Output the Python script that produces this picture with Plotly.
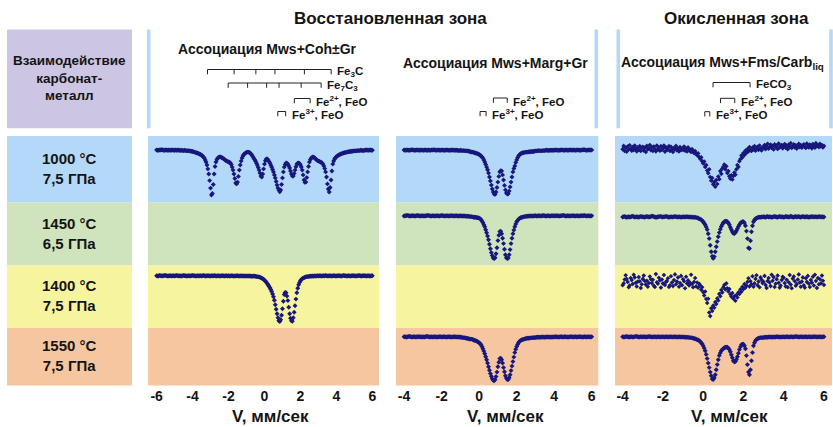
import numpy as np
import plotly.graph_objects as go

W, H = 833, 427
FONT = "Liberation Sans, Arial, Helvetica, sans-serif"
INK = "#141414"
DOT = "#17177c"

# ---------------------------------------------------------------------------
# Mössbauer spectra: absorption (%) below the baseline, one value per channel.
# Every spectrum is sampled with a 0.05 mm/s step; 20 channels per text row.
# ---------------------------------------------------------------------------
V_STEP = 0.05

# Mws+Coh±Gr, 1000 °C / 7.5 GPa, v = -6.0 ... 6.0
P1_1000 = [
    0.0, 0.1, 0.1, 0.0, 0.0, -0.1, -0.1, 0.0, 0.1, 0.1, 0.0, 0.0, 0.1, 0.1, 0.0, 0.1, 0.1, 0.0, 0.0, 0.1,
    0.1, 0.0, 0.1, 0.1, 0.0, 0.1, 0.2, 0.1, 0.1, 0.2, 0.2, 0.1, 0.2, 0.2, 0.3, 0.2, 0.3, 0.3, 0.4, 0.4,
    0.5, 0.6, 0.7, 0.8, 0.9, 1.0, 1.1, 1.2, 1.4, 1.5, 1.7, 2.0, 2.3, 2.7, 3.3, 4.0, 5.0, 6.3, 8.0, 10.2,
    12.7, 15.0, 14.5, 11.5, 8.0, 5.5, 4.0, 3.2, 2.7, 2.4, 2.3, 2.3, 2.5, 2.6, 2.8, 3.0, 3.3, 3.5, 3.7, 3.8,
    4.0, 4.1, 4.3, 4.8, 5.7, 6.7, 8.0, 9.5, 11.0, 11.3, 10.7, 8.8, 6.7, 5.0, 3.7, 2.7, 2.0, 1.5, 1.2, 1.0,
    0.8, 0.7, 0.7, 0.8, 1.0, 1.3, 1.7, 2.2, 2.7, 3.2, 3.7, 4.3, 5.0, 5.8, 6.7, 7.7, 8.7, 9.0, 8.0, 6.3,
    4.7, 3.6, 3.0, 3.0, 3.3, 3.8, 4.3, 5.0, 5.7, 6.5, 7.3, 8.3, 9.3, 10.5, 11.7, 12.7, 13.3, 13.9, 13.3, 11.5,
    9.3, 7.3, 5.7, 4.8, 4.3, 4.4, 4.7, 5.3, 6.0, 7.0, 8.0, 8.7, 8.7, 7.8, 6.7, 5.6, 4.7, 4.4, 4.3, 4.5,
    5.0, 5.7, 6.7, 8.3, 10.0, 10.8, 10.7, 9.2, 7.3, 5.5, 4.0, 3.2, 2.7, 2.4, 2.3, 2.4, 2.7, 3.0, 3.3, 3.5,
    3.7, 3.8, 4.0, 4.1, 4.3, 4.7, 5.3, 6.2, 7.3, 9.0, 11.3, 13.0, 14.0, 12.5, 10.0, 7.0, 4.7, 3.7, 3.0, 2.6,
    2.2, 2.0, 1.8, 1.6, 1.5, 1.3, 1.2, 1.1, 1.0, 0.9, 0.8, 0.8, 0.7, 0.6, 0.6, 0.5, 0.5, 0.4, 0.4, 0.3,
    0.3, 0.3, 0.3, 0.2, 0.2, 0.2, 0.2, 0.1, 0.1, 0.2, 0.2, 0.1, 0.1, 0.0, 0.0, 0.1, 0.1, 0.0, 0.0, 0.1,
    0.1,
]

# Mws+Coh±Gr, 1400 °C / 7.5 GPa, v = -6.0 ... 6.0
P1_1400 = [
    0.0, 0.1, 0.1, -0.1, 0.0, 0.0, 0.1, 0.0, 0.0, -0.1, -0.1, 0.0, 0.1, 0.1, 0.0, 0.0, 0.0, 0.1, 0.0, 0.0,
    0.1, 0.0, -0.1, 0.0, 0.0, 0.1, 0.0, 0.1, 0.1, 0.0, -0.1, 0.0, 0.0, 0.1, 0.1, 0.0, 0.0, 0.1, 0.0, 0.0,
    -0.1, 0.0, 0.0, 0.1, 0.1, 0.0, 0.0, 0.1, 0.0, 0.0, 0.1, 0.0, -0.1, 0.0, 0.1, 0.1, 0.0, 0.0, 0.0, 0.1,
    0.1, 0.0, 0.0, 0.1, -0.1, 0.0, 0.1, 0.1, 0.0, 0.0, 0.1, 0.1, 0.0, 0.0, 0.0, 0.1, 0.1, 0.0, 0.0, 0.1,
    0.0, 0.1, 0.1, 0.0, 0.0, 0.1, 0.1, 0.1, 0.1, 0.0, 0.0, 0.1, 0.1, 0.1, 0.0, 0.1, 0.1, 0.1, 0.1, 0.1,
    0.1, 0.1, 0.1, 0.1, 0.1, 0.2, 0.2, 0.2, 0.1, 0.2, 0.2, 0.3, 0.3, 0.4, 0.4, 0.5, 0.7, 0.8, 1.0, 1.2,
    1.5, 1.8, 2.2, 2.6, 3.0, 3.5, 4.0, 4.6, 5.3, 6.1, 7.0, 8.2, 9.7, 11.2, 12.7, 14.0, 15.0, 15.3, 14.7, 13.2,
    11.0, 8.5, 6.3, 5.6, 5.7, 6.8, 8.3, 10.5, 12.7, 14.2, 15.0, 15.2, 14.0, 12.2, 10.0, 7.8, 5.7, 4.2, 3.0, 2.3,
    1.7, 1.3, 1.0, 0.8, 0.7, 0.5, 0.4, 0.3, 0.3, 0.3, 0.2, 0.2, 0.2, 0.1, 0.2, 0.1, 0.1, 0.1, 0.1, 0.0,
    0.1, 0.0, 0.0, 0.1, 0.1, 0.0, 0.0, 0.1, -0.1, 0.0, 0.1, 0.1, 0.0, 0.0, 0.1, 0.1, 0.0, 0.0, 0.0, 0.1,
    0.1, 0.0, 0.0, 0.0, 0.0, 0.1, 0.1, 0.0, -0.1, 0.0, 0.0, 0.1, 0.1, 0.0, 0.0, 0.1, 0.1, 0.0, 0.0, 0.0,
    0.0, 0.1, 0.1, 0.0, 0.0, 0.0, -0.1, 0.1, 0.1, 0.0, 0.0, 0.0, 0.0, 0.1, 0.1, 0.0, 0.0, 0.1, 0.1, 0.0,
    0.0,
]

# Mws+Marg+Gr, 1000 °C / 7.5 GPa, v = -4.0 ... 6.0
P2_1000 = [
    0.0, 0.1, 0.1, 0.0, 0.0, 0.1, 0.1, 0.0, -0.1, 0.0, 0.0, 0.1, 0.1, 0.0, 0.0, 0.0, 0.1, 0.1, 0.0, 0.0,
    0.1, 0.1, 0.0, 0.0, 0.1, 0.1, 0.0, 0.1, 0.1, 0.0, 0.0, 0.0, -0.1, 0.0, 0.1, 0.1, 0.0, 0.0, 0.1, 0.1,
    0.0, 0.0, 0.1, 0.1, 0.1, 0.0, 0.0, 0.1, 0.1, 0.1, 0.1, 0.0, 0.0, 0.1, 0.1, 0.1, 0.1, 0.1, 0.2, 0.2,
    0.1, 0.2, 0.2, 0.2, 0.2, 0.3, 0.3, 0.3, 0.3, 0.4, 0.5, 0.6, 0.7, 0.7, 0.8, 0.9, 1.0, 1.1, 1.2, 1.3,
    1.5, 1.7, 2.0, 2.3, 2.7, 3.3, 4.0, 4.8, 5.7, 6.6, 7.7, 9.0, 10.3, 11.7, 13.0, 14.0, 14.7, 14.8, 14.0, 12.5,
    10.7, 8.8, 7.3, 6.9, 7.0, 8.3, 10.0, 11.8, 13.3, 14.3, 14.7, 14.6, 13.7, 12.3, 10.7, 9.0, 7.3, 6.2, 5.3, 4.2,
    3.3, 2.6, 2.0, 1.6, 1.3, 1.1, 1.0, 0.9, 0.8, 0.8, 0.7, 0.7, 0.7, 0.6, 0.6, 0.6, 0.5, 0.5, 0.5, 0.4,
    0.3, 0.3, 0.3, 0.2, 0.2, 0.3, 0.3, 0.2, 0.2, 0.2, 0.2, 0.1, 0.1, 0.1, 0.2, 0.1, 0.1, 0.1, 0.1, 0.1,
    0.1, 0.0, 0.0, 0.1, 0.1, 0.1, 0.1, 0.0, 0.0, 0.0, 0.1, 0.1, 0.0, 0.0, 0.1, 0.1, 0.0, 0.0, 0.0, 0.1,
    0.0, 0.0, 0.1, 0.1, 0.0, 0.0, 0.0, 0.1, 0.1, 0.0, 0.0, -0.1, -0.1, 0.0, 0.1, 0.1, 0.0, 0.0, 0.0, 0.0,
    0.0,
]

# Mws+Marg+Gr, 1450 °C / 6.5 GPa, v = -4.0 ... 6.0
P2_1450 = [
    0.1, 0.0, 0.0, -0.1, -0.1, 0.0, 0.1, 0.1, 0.0, 0.0, 0.0, 0.1, 0.1, 0.0, -0.1, 0.0, 0.0, 0.1, 0.1, 0.0,
    0.0, 0.1, 0.1, 0.0, 0.0, -0.1, -0.1, 0.0, 0.1, 0.1, 0.0, 0.0, 0.1, 0.1, 0.0, 0.0, 0.0, 0.1, 0.1, 0.0,
    -0.1, 0.0, 0.0, 0.1, 0.1, 0.0, 0.0, 0.1, 0.1, 0.0, 0.0, 0.0, 0.0, 0.1, 0.1, 0.0, 0.0, 0.1, 0.1, 0.1,
    0.0, 0.1, 0.1, 0.1, 0.1, 0.1, 0.2, 0.2, 0.2, 0.2, 0.3, 0.3, 0.3, 0.4, 0.5, 0.5, 0.5, 0.6, 0.7, 0.7,
    0.8, 1.0, 1.3, 1.8, 2.3, 3.0, 3.7, 4.7, 5.7, 6.8, 8.0, 9.5, 11.0, 12.3, 13.3, 14.1, 14.3, 14.0, 12.7, 10.7,
    8.3, 6.5, 5.3, 5.2, 6.0, 7.5, 9.3, 11.2, 13.0, 14.0, 14.3, 14.1, 13.0, 11.3, 9.3, 7.5, 6.0, 4.8, 3.7, 2.8,
    2.0, 1.6, 1.2, 0.9, 0.7, 0.6, 0.5, 0.4, 0.3, 0.3, 0.2, 0.2, 0.2, 0.1, 0.1, 0.1, 0.1, 0.1, 0.1, 0.0,
    0.0, 0.1, 0.1, 0.0, 0.0, 0.1, 0.1, 0.0, -0.1, 0.0, 0.0, 0.1, 0.1, 0.0, 0.0, 0.1, 0.1, 0.0, 0.0, 0.0,
    0.1, 0.0, 0.0, 0.0, 0.0, 0.1, 0.1, 0.0, 0.0, -0.1, -0.1, 0.0, 0.1, 0.1, 0.0, 0.0, 0.1, 0.1, 0.0, 0.0,
    0.0, 0.0, 0.1, 0.1, 0.0, 0.0, 0.1, 0.1, 0.0, 0.0, 0.0, 0.0, -0.1, 0.0, 0.1, 0.1, 0.0, 0.0, 0.1, 0.1,
    0.0,
]

# Mws+Marg+Gr, 1550 °C / 7.5 GPa, v = -4.0 ... 6.0
P2_1550 = [
    0.0, 0.0, 0.1, 0.1, 0.0, -0.1, -0.1, 0.0, 0.1, 0.1, 0.0, 0.0, 0.1, 0.1, 0.0, 0.0, 0.0, 0.0, 0.1, 0.1,
    0.0, 0.1, 0.1, 0.0, -0.1, -0.1, 0.0, 0.1, 0.1, 0.0, 0.1, 0.1, 0.0, 0.0, 0.1, 0.1, 0.1, 0.0, 0.0, 0.0,
    0.1, 0.1, 0.0, 0.0, 0.1, 0.1, 0.1, 0.0, 0.0, 0.1, 0.1, 0.1, 0.1, 0.0, 0.0, 0.1, 0.1, 0.1, 0.1, 0.1,
    0.2, 0.2, 0.3, 0.3, 0.3, 0.4, 0.5, 0.5, 0.6, 0.7, 0.8, 0.8, 0.8, 0.9, 1.1, 1.2, 1.3, 1.4, 1.6, 1.8,
    2.0, 2.3, 2.7, 3.3, 4.0, 4.8, 5.7, 6.7, 7.7, 8.8, 10.0, 11.2, 12.3, 13.2, 14.0, 14.5, 14.7, 14.3, 13.3, 11.8,
    10.0, 8.5, 7.3, 7.2, 7.7, 8.8, 10.3, 11.7, 13.0, 13.8, 14.3, 14.3, 13.7, 12.7, 11.3, 9.8, 8.3, 6.8, 5.3, 4.2,
    3.3, 2.6, 2.0, 1.6, 1.3, 1.1, 1.0, 0.9, 0.8, 0.7, 0.6, 0.5, 0.5, 0.5, 0.4, 0.4, 0.4, 0.3, 0.3, 0.3,
    0.3, 0.2, 0.2, 0.2, 0.2, 0.2, 0.2, 0.1, 0.1, 0.2, 0.2, 0.1, 0.1, 0.1, 0.1, 0.1, 0.2, 0.1, 0.1, 0.1,
    0.1, 0.0, 0.0, 0.1, 0.1, 0.1, 0.1, 0.0, 0.0, 0.1, 0.1, 0.0, 0.0, 0.1, 0.1, 0.1, 0.1, 0.0, 0.0, 0.0,
    0.1, 0.1, 0.0, 0.0, 0.1, 0.1, 0.0, 0.0, 0.0, 0.1, 0.1, 0.1, 0.0, 0.0, 0.1, 0.1, 0.0, 0.0, 0.1, 0.1,
    0.0,
]

# Mws+Fms/Carb_liq, 1000 °C / 7.5 GPa, v = -4.0 ... 6.0
P3_1000 = [
    0.3, -0.8, 0.9, -0.2, 1.1, -0.6, 0.4, -1.0, 0.2, 0.8, -0.4, 0.6, -0.9, 0.1, 1.0, -0.3, 0.5, -0.7, 0.9, -0.1,
    -0.5, 0.7, -0.2, 1.2, -0.8, 0.3, 0.0, -1.1, 0.6, -0.4, 0.9, -0.6, 0.2, 1.0, -0.9, 0.4, -0.2, 0.8, -0.7, 0.5,
    0.1, -0.9, 1.1, -0.3, 0.6, 0.2, -0.7, 0.9, -0.5, 0.4, 1.2, -0.1, 0.3, -0.8, 0.7, 0.0, 1.0, -0.4, 0.6, 0.2,
    0.5, -0.6, 0.8, 0.1, 1.0, -0.3, 0.7, 0.4, 1.2, 0.3, 1.0, 1.6, 0.9, 1.8, 2.3, 1.7, 2.9, 3.5, 3.0, 4.3,
    5.0, 4.4, 6.2, 5.6, 7.4, 8.3, 7.0, 9.6, 10.8, 9.9, 12.0, 11.2, 12.8, 10.6, 11.9, 9.4, 10.3, 7.6, 8.5, 6.8,
    6.2, 5.4, 7.0, 6.0, 8.2, 7.6, 9.3, 10.1, 9.0, 10.4, 9.2, 8.1, 8.8, 7.0, 5.6, 6.2, 4.3, 3.6, 2.4, 3.0,
    1.6, 2.2, 0.8, 1.5, 0.3, 1.0, -0.4, 0.6, 0.9, -0.2, 0.4, -0.7, 0.8, 0.1, -0.5, 0.5, -0.9, 0.2, 0.7, -0.3,
    -0.2, -1.1, 0.3, -0.7, -1.5, 0.1, -0.4, -1.2, -0.1, -0.8, 0.4, -1.3, -0.5, -0.9, 0.2, -1.6, -0.3, -0.7, -1.1, 0.0,
    -0.6, -1.4, -0.2, -0.9, 0.3, -1.2, -0.5, -1.7, -0.1, -0.8, -1.3, -0.3, -1.0, 0.1, -0.7, -1.5, -0.4, -1.1, -0.2, -0.9,
    -1.3, -0.5, -0.1, -1.6, -0.8, -0.3, -1.2, -0.6, 0.0, -1.4, -0.9, -0.2, -1.7, -0.7, -1.0, -0.4, -1.5, -0.6, -1.1, -0.3,
    -0.8,
]

# Mws+Fms/Carb_liq, 1450 °C / 6.5 GPa, v = -4.0 ... 6.0
P3_1450 = [
    0.1, 0.0, -0.1, 0.1, 0.2, 0.1, 0.0, 0.1, 0.1, -0.1, -0.2, 0.0, 0.1, 0.1, 0.0, 0.1, 0.2, 0.0, -0.1, 0.0,
    0.0, 0.1, 0.2, 0.0, -0.1, 0.0, 0.1, 0.0, 0.0, -0.2, -0.2, 0.0, 0.1, 0.2, 0.2, 0.0, 0.0, -0.1, -0.1, 0.1,
    0.1, 0.0, 0.0, -0.1, -0.1, 0.1, 0.2, 0.1, 0.0, 0.1, 0.1, 0.0, -0.1, 0.0, 0.1, 0.1, 0.0, 0.1, 0.2, 0.1,
    0.0, 0.1, 0.1, 0.0, 0.0, 0.1, 0.1, 0.1, 0.1, 0.2, 0.2, 0.2, 0.2, 0.3, 0.3, 0.5, 0.7, 0.8, 1.0, 1.3,
    1.7, 2.2, 2.7, 3.4, 4.3, 5.7, 7.3, 9.5, 11.7, 13.2, 13.9, 13.3, 11.7, 10.0, 8.3, 6.7, 5.3, 4.2, 3.3, 2.6,
    2.0, 1.7, 1.5, 1.5, 1.7, 2.1, 2.7, 3.5, 4.3, 5.0, 5.5, 5.6, 5.3, 4.7, 4.0, 3.3, 2.7, 2.2, 1.8, 1.7,
    1.7, 2.1, 3.0, 4.8, 7.3, 10.4, 10.6, 8.0, 5.0, 3.0, 1.7, 1.1, 0.7, 0.5, 0.3, 0.2, 0.2, 0.2, 0.1, 0.1,
    0.0, 0.1, 0.2, 0.0, -0.1, 0.1, 0.0, 0.1, 0.2, 0.1, 0.0, -0.1, 0.0, 0.1, 0.2, 0.0, -0.1, 0.0, 0.1, 0.0,
    0.2, 0.1, -0.1, 0.0, 0.0, 0.1, 0.1, -0.2, 0.0, 0.1, 0.2, 0.0, -0.1, 0.1, 0.0, -0.1, 0.1, 0.2, 0.0, -0.1,
    0.0, 0.1, 0.1, -0.1, 0.1, 0.2, 0.0, 0.1, -0.1, 0.0, 0.1, 0.0, 0.0, 0.1, 0.1, -0.1, 0.0, 0.1, 0.0, 0.1,
    0.1,
]

# Mws+Fms/Carb_liq, 1400 °C / 7.5 GPa, v = -4.0 ... 6.0
P3_1400 = [
    1.5, 0.9, -0.4, -1.8, -0.6, 0.4, 2.2, 1.6, -0.9, -0.2, 1.1, -2.0, -1.1, 0.7, 1.9, 0.3, -1.2, 0.2, 2.4, 1.2,
    -0.6, -1.7, 0.1, 1.3, 0.0, 2.0, 0.8, -1.4, -0.5, 0.8, -0.3, 1.7, 2.1, -2.2, 0.5, 1.0, -1.0, -0.1, 2.3, -0.4,
    0.9, -1.9, 1.4, 0.4, 0.1, -0.8, 2.1, 1.5, -1.5, 0.6, 1.8, -0.2, -2.1, 1.2, 0.3, -1.1, 2.0, 0.8, -1.6, 1.5,
    -0.5, 0.2, 2.5, -1.3, 0.9, -0.1, 1.6, 0.7, -2.0, 1.1, 2.2, 0.4, -0.9, 1.9, 0.6, 2.3, 1.0, 1.5, 3.0, 2.2,
    3.8, 4.9, 3.6, 6.1, 7.4, 6.0, 10.6, 11.8, 9.2, 10.1, 8.3, 9.0, 7.1, 7.8, 5.9, 6.6, 4.4, 5.2, 3.1, 3.9,
    2.2, 1.4, 2.9, 0.9, 2.5, 3.6, 2.8, 4.5, 5.3, 4.1, 6.0, 5.2, 6.7, 4.8, 5.6, 3.9, 4.4, 2.9, 3.7, 2.0,
    2.8, 1.1, 2.3, 1.6, 0.4, -0.8, 1.9, 0.2, 1.2, -1.5, 2.0, 0.9, -0.6, -1.8, 1.5, 0.3, 2.2, -1.1, -0.3, 0.8,
    0.4, -1.6, 1.4, 2.4, 0.1, -0.9, 0.6, 1.8, -2.0, 0.0, -1.2, 2.1, 1.0, -0.5, -1.7, 0.7, 2.3, 1.6, -0.2, -1.3,
    -1.0, 0.8, 1.9, -0.3, 2.2, 0.5, -1.9, 1.3, 2.5, -0.7, -1.4, 0.2, 1.7, 1.1, -0.4, -2.1, 0.6, 2.0, 0.3, -1.1,
    1.5, 2.3, -0.8, 0.4, -1.6, 1.0, 2.1, -0.2, 0.7, -1.3, 1.6, -2.0, 0.1, 2.4, -0.9, 1.2, -0.5, 0.9, -1.7, 0.0,
    1.4,
]

# Mws+Fms/Carb_liq, 1550 °C / 7.5 GPa, v = -4.0 ... 6.0
P3_1550 = [
    0.0, 0.1, 0.1, 0.0, -0.1, 0.0, 0.1, 0.1, 0.0, 0.0, 0.1, 0.1, 0.0, -0.1, -0.1, 0.0, 0.1, 0.1, 0.0, 0.0,
    0.1, 0.0, 0.0, 0.1, 0.1, 0.0, -0.1, 0.0, 0.0, 0.1, 0.1, 0.0, 0.0, 0.1, 0.1, 0.0, 0.0, 0.1, 0.1, 0.0,
    0.0, 0.1, 0.1, 0.0, 0.0, 0.1, 0.1, 0.0, 0.0, 0.1, 0.1, 0.0, 0.0, 0.1, 0.1, 0.1, 0.0, 0.1, 0.1, 0.1,
    0.1, 0.1, 0.2, 0.2, 0.2, 0.2, 0.3, 0.3, 0.3, 0.4, 0.5, 0.6, 0.7, 0.8, 1.0, 1.1, 1.3, 1.6, 2.0, 2.4,
    3.0, 3.8, 4.7, 5.9, 7.3, 8.8, 10.3, 11.8, 13.0, 14.1, 14.3, 13.7, 12.7, 11.0, 9.3, 7.7, 6.3, 5.4, 4.7, 4.3,
    4.0, 3.7, 3.5, 3.5, 3.5, 3.8, 4.3, 5.0, 6.0, 7.0, 8.0, 8.4, 8.3, 7.6, 6.7, 5.5, 4.3, 3.4, 2.7, 2.5,
    2.5, 3.0, 4.0, 6.3, 9.3, 11.8, 12.7, 11.0, 8.0, 5.3, 3.0, 2.0, 1.3, 0.9, 0.7, 0.5, 0.4, 0.3, 0.3, 0.3,
    0.3, 0.2, 0.2, 0.2, 0.2, 0.1, 0.1, 0.1, 0.2, 0.1, 0.1, 0.1, 0.1, 0.0, 0.0, 0.1, 0.1, 0.1, 0.1, 0.1,
    0.0, 0.1, 0.1, 0.0, 0.0, 0.1, 0.1, 0.0, 0.0, 0.1, 0.1, 0.0, -0.1, 0.0, 0.0, 0.1, 0.1, 0.0, 0.0, 0.1,
    0.1, 0.0, 0.0, 0.1, 0.1, 0.0, 0.0, 0.1, 0.1, 0.0, 0.0, 0.0, 0.0, 0.1, 0.1, 0.0, 0.0, 0.1, 0.1, 0.0,
    0.0,
]

# Stick diagrams (line positions, mm/s)
FE3C_LINES = [-3.17, -1.69, -0.48, 0.58, 2.22, 3.71]
FE7C3_LINES = [-2.02, -0.94, 0.12, 0.81, 2.04, 3.15]
FE2_FEO_COH = [1.66, 2.54]
FE3_FEO_COH = [0.74, 1.18]
FE2_FEO_MARG = [0.76, 1.50]
FE3_FEO_MARG = [0.05, 0.37]
FECO3_FMS = [0.49, 2.33]
FE2_FEO_FMS = [0.86, 1.57]
FE3_FEO_FMS = [0.08, 0.33]

# Text
ROW_LABELS = ["1000 °C<br>7,5 ГПа", "1450 °C<br>6,5 ГПа",
              "1400 °C<br>7,5 ГПа", "1550 °C<br>7,5 ГПа"]
ZONE_TITLES = ["Восстановленная зона", "Окисленная зона"]
ASSOC_TITLES = ["Ассоциация Mws+Coh±Gr", "Ассоциация Mws+Marg+Gr",
                "Ассоциация Mws+Fms/Carb<sub>liq</sub>"]
HEADER_LABEL = "Взаимодействие<br>карбонат-<br>металл"
AXIS_TITLE = "V, мм/сек"
TICKS_WIDE = [-6, -4, -2, 0, 2, 4, 6]
TICKS_NARROW = [-4, -2, 0, 2, 4, 6]

# ---------------------------------------------------------------------------
# Layout geometry (pixels)
# ---------------------------------------------------------------------------
COLS = [(148, 379), (396, 598.3), (615, 832)]
XRANGES = [(-6.48, 6.37), (-4.43, 6.35), (-4.38, 6.40)]
XTICKS = [TICKS_WIDE, TICKS_NARROW, TICKS_NARROW]
ROWS = [(136, 202.5), (202.5, 265.5), (265.5, 328), (328, 385.5)]
ROW_COLORS = ["#b4d8f8", "#cfe3bd", "#f7f4a0", "#f6c6a0"]
HEADER_COLOR = "#ccc6e4"
DIVIDER = "#b4d8f8"
PX_PER_PCT = 3.0

# spectrum, first channel (mm/s), column, row, baseline (px), marker size
SPECTRA = [
    (P1_1000, -6.0, 0, 0, 150.0, 3.8),
    (P1_1400, -6.0, 0, 2, 275.7, 3.8),
    (P2_1000, -4.0, 1, 0, 150.0, 3.8),
    (P2_1450, -4.0, 1, 1, 215.7, 3.8),
    (P2_1550, -4.0, 1, 3, 336.7, 3.8),
    (P3_1000, -4.0, 2, 0, 148.3, 3.6),
    (P3_1450, -4.0, 2, 1, 216.7, 3.8),
    (P3_1400, -4.0, 2, 2, 280.7, 3.5),
    (P3_1550, -4.0, 2, 3, 336.7, 3.8),
]


def fx(x):
    return x / W


def fy(y):
    return 1 - y / H


fig = go.Figure()
layout = dict(
    width=W, height=H, margin=dict(l=0, r=0, t=0, b=0),
    paper_bgcolor="#ffffff", plot_bgcolor="rgba(0,0,0,0)",
    showlegend=False, font=dict(family=FONT, size=13, color=INK),
)

# x axes: one per column, labelled under the bottom row
for c, ((x0, x1), rng, ticks) in enumerate(zip(COLS, XRANGES, XTICKS)):
    name = "xaxis" if c == 0 else f"xaxis{c + 1}"
    layout[name] = dict(
        domain=[fx(x0), fx(x1)], range=list(rng), anchor="free",
        position=fy(ROWS[-1][1]), showgrid=False, zeroline=False,
        showline=False, ticks="", tickvals=ticks,
        ticktext=[f"<b>{t}</b>" for t in ticks],
        tickfont=dict(family=FONT, size=14, color=INK),
        fixedrange=True,
    )

# one hidden y axis per spectrum cell, same vertical scale everywhere
for i, (vals, v0, col, row, base, msize) in enumerate(SPECTRA):
    top, bot = ROWS[row]
    name = "yaxis" if i == 0 else f"yaxis{i + 1}"
    layout[name] = dict(
        domain=[fy(bot), fy(top)],
        range=[100 - (bot - base) / PX_PER_PCT, 100 + (base - top) / PX_PER_PCT],
        visible=False, anchor="free", position=0, fixedrange=True,
    )
    v = np.round(v0 + V_STEP * np.arange(len(vals)), 3)
    fig.add_trace(go.Scatter(
        x=v, y=100 - np.asarray(vals), mode="markers",
        xaxis="x" if col == 0 else f"x{col + 1}",
        yaxis="y" if i == 0 else f"y{i + 1}",
        marker=dict(symbol="diamond", size=msize, color=DOT, line=dict(width=0)),
        hoverinfo="skip",
    ))

shapes = []
# coloured row bands
for (top, bot), color in zip(ROWS, ROW_COLORS):
    for x0, x1 in [(7, 132)] + COLS:
        shapes.append(dict(type="rect", xref="paper", yref="paper",
                           x0=fx(x0), x1=fx(x1), y0=fy(bot), y1=fy(top),
                           fillcolor=color, line=dict(width=0), layer="below"))
# header box
shapes.append(dict(type="rect", xref="paper", yref="paper",
                   x0=fx(7), x1=fx(132), y0=fy(128.3), y1=fy(29.5),
                   fillcolor=HEADER_COLOR, line=dict(width=0), layer="below"))
# header dividers
for xd in [148.7, 596.3, 618.3, 831.0]:
    shapes.append(dict(type="line", xref="paper", yref="paper",
                       x0=fx(xd), x1=fx(xd), y0=fy(128.3), y1=fy(29.5),
                       line=dict(color=DIVIDER, width=3.6), layer="below"))

annotations = []


def stick(lines, col, top, label):
    xr = "x" if col == 0 else f"x{col + 1}"
    shapes.append(dict(type="line", xref=xr, yref="paper",
                       x0=min(lines), x1=max(lines), y0=fy(top), y1=fy(top),
                       line=dict(color="#222222", width=1)))
    for p in lines:
        shapes.append(dict(type="line", xref=xr, yref="paper",
                           x0=p, x1=p, y0=fy(top), y1=fy(top + 4.8),
                           line=dict(color="#222222", width=1)))
    annotations.append(dict(text=f"<b>{label}</b>", xref=xr, yref="paper",
                            x=max(lines), y=fy(top + 2.5), xshift=4,
                            xanchor="left", yanchor="middle", showarrow=False,
                            font=dict(family=FONT, size=11.5, color=INK)))


stick(FE3C_LINES, 0, 69.5, "Fe<sub>3</sub>C")
stick(FE7C3_LINES, 0, 83.0, "Fe<sub>7</sub>C<sub>3</sub>")
stick(FE2_FEO_COH, 0, 98.5, "Fe<sup>2+</sup>, FeO")
stick(FE3_FEO_COH, 0, 111.5, "Fe<sup>3+</sup>, FeO")
stick(FE2_FEO_MARG, 1, 98.0, "Fe<sup>2+</sup>, FeO")
stick(FE3_FEO_MARG, 1, 111.5, "Fe<sup>3+</sup>, FeO")
stick(FECO3_FMS, 2, 82.5, "FeCO<sub>3</sub>")
stick(FE2_FEO_FMS, 2, 98.3, "Fe<sup>2+</sup>, FeO")
stick(FE3_FEO_FMS, 2, 111.7, "Fe<sup>3+</sup>, FeO")


def label(text, x, y, size):
    lines = "<br>".join(f"<b>{part}</b>" for part in text.split("<br>"))
    annotations.append(dict(text=lines, xref="paper", yref="paper",
                            x=fx(x), y=fy(y), xanchor="center", yanchor="middle",
                            showarrow=False, align="center",
                            font=dict(family=FONT, size=size, color=INK)))


label(ZONE_TITLES[0], 390, 18, 17)
label(ZONE_TITLES[1], 736, 18, 17)
label(ASSOC_TITLES[0], 267, 49, 14)
label(ASSOC_TITLES[1], 496, 63, 14)
label(ASSOC_TITLES[2], 722, 63, 14)
label(HEADER_LABEL, 69.5, 78, 13.5)
for (top, bot), text in zip(ROWS, ROW_LABELS):
    label(text, 69.5, (top + bot) / 2 - 1, 15)
for xc in [270, 505, 729]:
    label(AXIS_TITLE, xc, 416, 17)

layout["shapes"] = shapes
layout["annotations"] = annotations
fig.update_layout(**layout)
fig.write_html("out.html")
